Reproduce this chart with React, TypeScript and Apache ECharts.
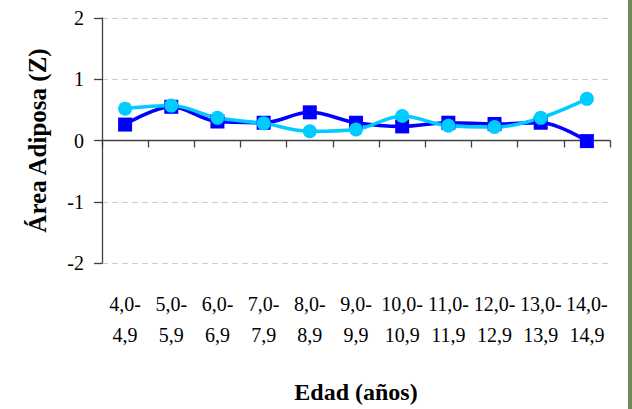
import React, { useEffect, useRef } from "react";
import * as echarts from "echarts";

const categories = [
  "4,0-\n4,9", "5,0-\n5,9", "6,0-\n6,9", "7,0-\n7,9", "8,0-\n8,9", "9,0-\n9,9",
  "10,0-\n10,9", "11,0-\n11,9", "12,0-\n12,9", "13,0-\n13,9", "14,0-\n14,9",
];
const seriesSquares = [0.26, 0.55, 0.31, 0.29, 0.46, 0.29, 0.23, 0.29, 0.27, 0.29, -0.01];
const seriesCircles = [0.52, 0.57, 0.37, 0.28, 0.15, 0.18, 0.40, 0.24, 0.22, 0.37, 0.68];
const yMin = -2;
const yMax = 2;
const yStep = 1;

const SERIF = "'Liberation Serif', 'Times New Roman', serif";

export default function App() {
  const ref = useRef<HTMLDivElement>(null);
  useEffect(() => {
    if (!ref.current) return;
    const chart = echarts.init(ref.current, null, { renderer: "svg" });
    chart.setOption({
      animation: false,
      backgroundColor: "#ffffff",
      grid: { left: 102, right: 22, top: 18, bottom: 139, containLabel: false },
      xAxis: [
        {
          type: "category",
          data: categories,
          position: "bottom",
          boundaryGap: true,
          axisLine: { show: false, onZero: false },
          axisTick: { show: false },
          splitLine: { show: false },
          axisLabel: {
            interval: 0,
            margin: 25,
            fontFamily: SERIF,
            fontSize: 20,
            lineHeight: 31,
            color: "#000",
          },
          name: "Edad (años)",
          nameLocation: "middle",
          nameGap: 117,
          nameTextStyle: { fontFamily: SERIF, fontSize: 24, fontWeight: "bold", color: "#000" },
        },
        {
          type: "category",
          data: categories,
          position: "bottom",
          boundaryGap: true,
          axisLine: { show: true, onZero: true, lineStyle: { color: "#404040", width: 1.3 } },
          axisTick: { show: true, interval: 0, length: 7, lineStyle: { color: "#404040", width: 1.3 } },
          axisLabel: { show: false },
          splitLine: { show: false },
        },
      ],
      yAxis: {
        type: "value",
        min: yMin,
        max: yMax,
        interval: yStep,
        axisLine: { show: true, lineStyle: { color: "#404040", width: 1.3 } },
        axisTick: { show: true, length: 8, lineStyle: { color: "#404040", width: 1.3 } },
        axisLabel: { fontFamily: SERIF, fontSize: 20, color: "#000", margin: 18 },
        splitLine: { show: true, lineStyle: { color: "#cccccc", type: [6, 4], width: 1 } },
        name: "Área Adiposa (Z)",
        nameLocation: "middle",
        nameGap: 52,
        nameTextStyle: { fontFamily: SERIF, fontSize: 25, fontWeight: "bold", color: "#000" },
      },
      graphic: [
        { type: "rect", right: 0, top: 0, shape: { width: 4, height: 409 }, style: { fill: "#72895a" } },
      ],
      series: [
        {
          type: "line",
          data: seriesSquares,
          xAxisIndex: 0,
          smooth: 0.35,
          symbol: "rect",
          symbolSize: 14,
          lineStyle: { color: "#0000ff", width: 3.5 },
          itemStyle: { color: "#0000ff" },
        },
        {
          type: "line",
          data: seriesCircles,
          xAxisIndex: 0,
          smooth: 0.35,
          symbol: "circle",
          symbolSize: 14,
          lineStyle: { color: "#00ccff", width: 3.5 },
          itemStyle: { color: "#00ccff" },
        },
      ],
    });
    return () => chart.dispose();
  }, []);
  return (
    <div
      ref={ref}
      style={{ position: "fixed", left: 0, top: 0, width: 632, height: 409 }}
    />
  );
}
